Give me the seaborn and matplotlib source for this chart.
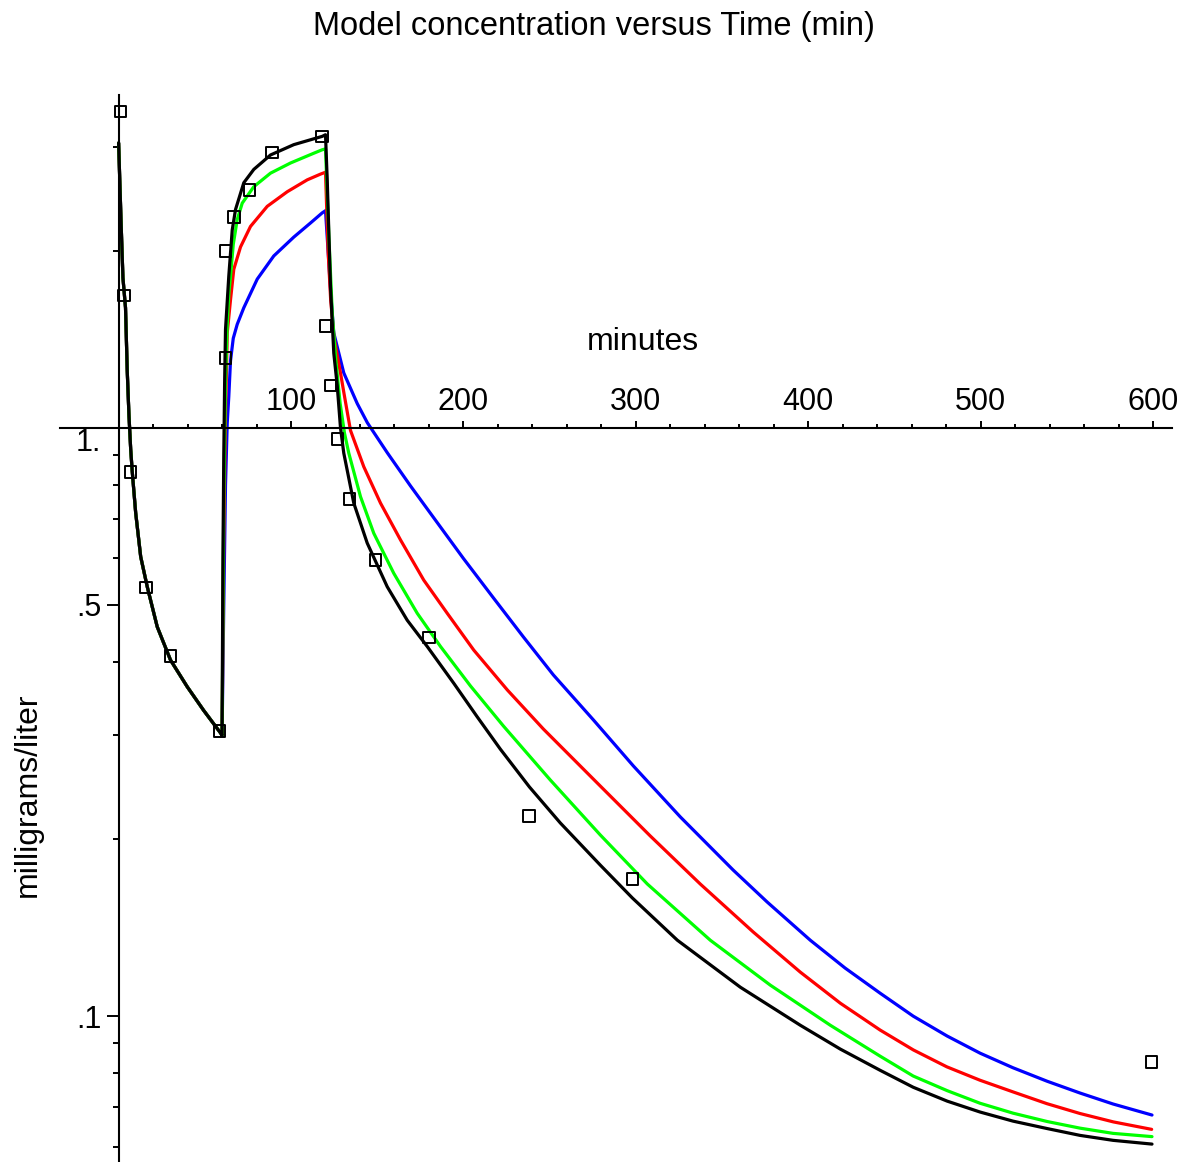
import numpy as np
import pandas as pd
import matplotlib
matplotlib.use("Agg")
import matplotlib.pyplot as plt
import seaborn as sns
from matplotlib.ticker import FixedLocator, FixedFormatter, NullFormatter

# shared bolus phase (0-60 min), all four models overlap here
early_t = [0, 1.5, 2.5, 4, 5, 6, 7, 7.9, 9.9, 12.8, 16.6, 22.4, 30.1, 39.8, 49.3, 59.1]
early_c = [3.05, 2.2, 1.8, 1.6, 1.25, 1.05, 0.92, 0.843, 0.717, 0.604, 0.537, 0.459,
           0.403, 0.363, 0.331, 0.303]

blue_t = [60, 61, 62, 63, 63.9, 64.9, 66.5, 68.8, 72.6, 80.4, 90.0, 101.6, 111.3, 118.1, 120,
          121.5, 123, 124.8, 130.6, 138.4, 144.3, 155.9, 169.3, 184.9, 200.0, 217.4, 234.8,
          252.2, 275.4, 298.6, 325.8, 356.5, 376.2, 401.2, 421.4, 441.7, 460.9, 480.6, 499.7,
          518.8, 538.6, 557.7, 576.8, 599.4]
blue_c = [0.30, 0.5, 0.8, 1.02, 1.13, 1.3, 1.42, 1.5, 1.6, 1.79, 1.96, 2.11, 2.23, 2.32, 2.34,
          2.0, 1.7, 1.45, 1.24, 1.10, 1.020, 0.9067, 0.7967, 0.6896, 0.5998, 0.5140, 0.4411,
          0.3801, 0.3188, 0.2662, 0.2181, 0.1771, 0.1563, 0.1346, 0.1207, 0.1094, 0.1000, 0.0925,
          0.0865, 0.0817, 0.0775, 0.0740, 0.0709, 0.0679]

red_t = [60, 61, 62, 63.0, 64.9, 66.8, 70.7, 76.5, 86.2, 97.8, 109.4, 117.1, 120,
         121.5, 123, 125, 128.7, 130.6, 134.5, 142.2, 151.9, 163.5, 177.0, 190.6, 206.0,
         225.5, 246.4, 279.4, 308.4, 337.4, 368.1, 395.4, 418.6, 441.7, 461.0, 480.4, 499.7,
         519.0, 538.4, 557.7, 577.0, 599.2]
red_c = [0.30, 0.65, 1.05, 1.45, 1.65, 1.86, 2.03, 2.20, 2.38, 2.52, 2.64, 2.70, 2.72,
         2.0, 1.65, 1.42, 1.24, 1.15, 0.99, 0.859, 0.745, 0.645, 0.551, 0.484, 0.419,
         0.3584, 0.3076, 0.2461, 0.2024, 0.1677, 0.1390, 0.1188, 0.1052, 0.0947, 0.0876, 0.082,
         0.0778, 0.0743, 0.0710, 0.0683, 0.0661, 0.0642]

green_t = [60, 61, 62, 63, 64, 64.9, 66.5, 68.8, 71.7, 78.4, 88.1, 99.7, 113.2, 118.1, 120,
           122, 124, 126, 128.5, 131, 133.5, 140.3, 148.0, 159.6, 173.2, 186.7, 204.1, 223.2,
           250.4, 279.4, 306.7, 343.2, 378.0, 412.8, 441.7, 460.9, 480.6, 499.7, 518.8, 538.6,
           557.7, 576.8, 599.4]
green_c = [0.30, 0.75, 1.2, 1.5, 1.7, 1.81, 2.05, 2.26, 2.41, 2.57, 2.71, 2.82, 2.93, 2.97, 2.98,
           2.1, 1.55, 1.3, 1.1, 0.98, 0.906, 0.764, 0.662, 0.566, 0.484, 0.425, 0.3641, 0.3113,
           0.2520, 0.2032, 0.1677, 0.1346, 0.1129, 0.0965, 0.0855, 0.0791, 0.0747, 0.0711,
           0.0684, 0.0662, 0.0645, 0.0632, 0.0624]

black_t = [60, 60.5, 61, 61.5, 62, 63.9, 65.9, 67.8, 72.6, 78.4, 88.1, 101.6, 118.1, 120,
           121, 122.9, 124.8, 126.8, 128.7, 130.6, 136.4, 144.2, 155.8, 167.4, 179.0, 194.4,
           207.9, 221.4, 238.3, 256.2, 279.4, 298.0, 324.1, 360.6, 395.4, 418.6, 441.7, 460.9,
           480.6, 499.7, 518.8, 538.6, 557.7, 576.8, 599.4]
black_c = [0.30, 0.6, 0.9, 1.2, 1.47, 1.81, 2.17, 2.35, 2.61, 2.75, 2.91, 3.03, 3.13, 3.15,
           2.64, 1.74, 1.34, 1.18, 1.0, 0.906, 0.745, 0.637, 0.537, 0.471, 0.425, 0.368,
           0.323, 0.2844, 0.2452, 0.2130, 0.1806, 0.1588, 0.1346, 0.1120, 0.0965, 0.0879,
           0.0809, 0.0757, 0.0717, 0.0687, 0.0663, 0.0644, 0.0627, 0.0615, 0.0606]

# measured concentrations
data_t = [1, 3, 7, 16, 30, 58.5, 62, 62, 67, 76, 89, 118, 120, 123, 127, 134, 149, 180,
          238, 298, 599]
data_c = [3.45, 1.68, 0.842, 0.535, 0.409, 0.305, 2.0, 1.315, 2.28, 2.54, 2.94, 3.13, 1.49,
          1.18, 0.958, 0.757, 0.596, 0.44, 0.219, 0.171, 0.0835]

models = {"blue": (blue_t, blue_c), "red": (red_t, red_c),
          "green": (green_t, green_c), "black": (black_t, black_c)}

rows = []
for name, (tt, cc) in models.items():
    for t, c in zip(early_t + tt, early_c + cc):
        rows.append({"t": t, "c": c, "model": name})
df = pd.DataFrame(rows)
obs = pd.DataFrame({"t": data_t, "c": data_c})

sns.set_style("white")
plt.rcParams["font.family"] = ["Liberation Sans", "DejaVu Sans"]
plt.rcParams["text.color"] = "black"
plt.rcParams["xtick.color"] = "black"
plt.rcParams["ytick.color"] = "black"

fig = plt.figure(figsize=(11.78, 11.62), dpi=100)
ax = fig.add_axes([60 / 1178, 0, 1112 / 1178, 1067 / 1162])

palette = {"blue": "#0000ff", "red": "#ff0000", "green": "#00ff00", "black": "#000000"}
sns.lineplot(data=df, x="t", y="c", hue="model", hue_order=["blue", "red", "green", "black"],
             palette=palette, estimator=None, sort=False, units="model",
             lw=2.3, legend=False, ax=ax)
sns.scatterplot(data=obs, x="t", y="c", marker="s", s=70, facecolor="none",
                edgecolor="black", linewidth=1.4, zorder=5, ax=ax)

ax.set_yscale("log")
ax.set_xlim(-34, 611)
ax.set_ylim(0.0565, 3.68)

# Maple-style crossing axes
for s in ["bottom", "right"]:
    ax.spines[s].set_visible(False)
ax.spines["top"].set_position(("data", 1))
ax.spines["left"].set_position(("data", 0))
for s in ["top", "left"]:
    ax.spines[s].set_linewidth(1.5)
    ax.spines[s].set_color("black")
ax.xaxis.set_ticks_position("top")
ax.yaxis.set_ticks_position("left")

ax.xaxis.set_major_locator(FixedLocator([100, 200, 300, 400, 500, 600]))
ax.xaxis.set_minor_locator(FixedLocator([20, 40, 60, 80] + [x for x in range(120, 600, 20) if x % 100]))
ax.yaxis.set_major_locator(FixedLocator([0.1, 0.5, 1.0]))
ax.yaxis.set_major_formatter(FixedFormatter([".1", ".5", "1."]))
ax.yaxis.set_minor_locator(FixedLocator([0.06, 0.07, 0.08, 0.09, 0.2, 0.3, 0.4, 0.6, 0.7,
                                         0.8, 0.9, 2, 3]))
ax.yaxis.set_minor_formatter(NullFormatter())

ax.tick_params(axis="x", which="both", top=True, bottom=False)
ax.tick_params(axis="y", which="both", left=True, right=False)
ax.tick_params(axis="x", which="major", direction="out", length=5, width=1.4,
               labelsize=22, pad=3)
ax.tick_params(axis="x", which="minor", direction="out", length=3, width=1.4)
ax.tick_params(axis="y", which="major", direction="out", length=8.5, width=1.4,
               labelsize=22, pad=4)
ax.tick_params(axis="y", which="minor", direction="out", length=4.5, width=1.4)
ax.set_xlabel("")
ax.set_ylabel("")

for lbl in ax.get_yticklabels():
    if lbl.get_text() == "1.":
        lbl.set_va("top")

fig.text(643 / 1178, 1 - 342 / 1162, "minutes", ha="center", va="center", fontsize=23)
fig.text(594 / 1178, 1 - 27 / 1162, "Model concentration versus Time (min)",
         ha="center", va="center", fontsize=23.5)
fig.text(28 / 1178, 1 - 795 / 1162, "milligrams/liter", ha="center", va="center",
         rotation=90, fontsize=23)

fig.savefig("out.png", dpi=100, facecolor="white")
